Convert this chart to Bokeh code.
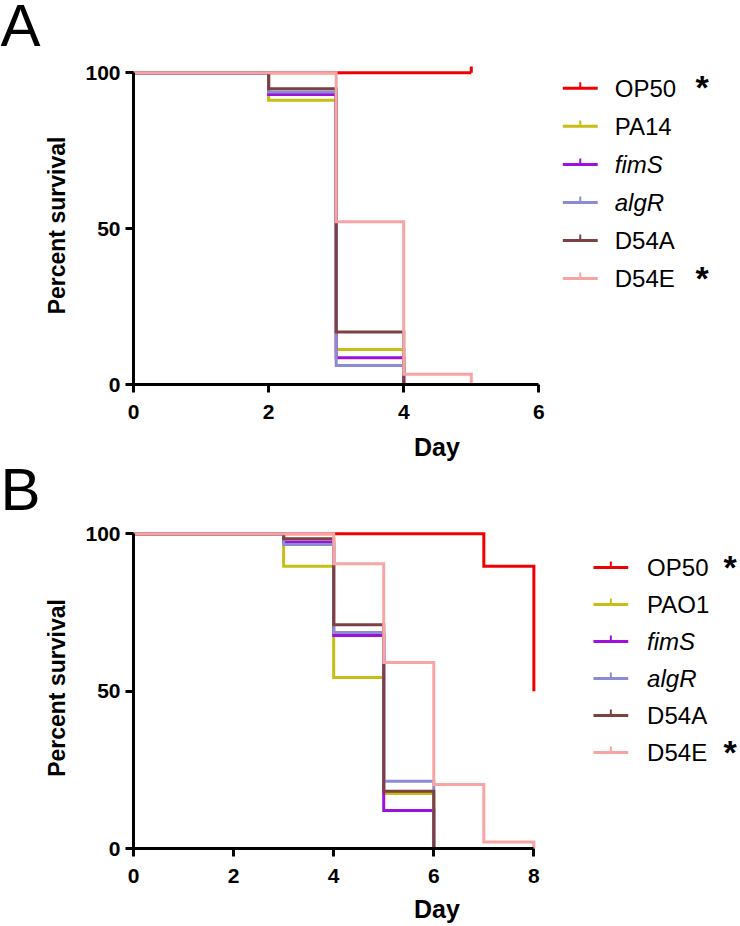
from bokeh.plotting import figure
from bokeh.models import Range1d, FixedTicker, Label
from bokeh.layouts import column, row
from bokeh.embed import file_html
from bokeh.resources import INLINE

# ---------------- data ----------------
strains_A = ["OP50", "PA14", "fimS", "algR", "D54A", "D54E"]
strains_B = ["OP50", "PAO1", "fimS", "algR", "D54A", "D54E"]
italic = [False, False, True, True, False, False]
starred = [True, False, False, False, False, True]
colors = ["#F00000", "#C6BE16", "#9E10DC", "#8C8CD2", "#7C4242", "#F9A4A4"]

# Panel A: event days and survival (%) after each event
days_A_OP50 = [0, 5];          surv_A_OP50 = [100, 100]
days_A_PA14 = [0, 2, 3, 4];    surv_A_PA14 = [100, 91.2, 11.2, 0]
days_A_fimS = [0, 2, 3, 4];    surv_A_fimS = [100, 93.0, 8.6, 0]
days_A_algR = [0, 2, 3, 4];    surv_A_algR = [100, 93.8, 6.1, 0]
days_A_D54A = [0, 2, 3, 4];    surv_A_D54A = [100, 94.9, 16.8, 0]
days_A_D54E = [0, 3, 4, 5];    surv_A_D54E = [100, 52.2, 3.3, 0]
censor_A_days = [5];           censor_A_surv = [100]     # OP50 censored

# Panel B
days_B_OP50 = [0, 7, 8];          surv_B_OP50 = [100, 89.7, 50.0]
days_B_PAO1 = [0, 3, 4, 5, 6];    surv_B_PAO1 = [100, 89.7, 54.3, 17.5, 0]
days_B_fimS = [0, 3, 4, 5, 6];    surv_B_fimS = [100, 97.4, 67.7, 12.1, 0]
days_B_algR = [0, 3, 4, 5, 6];    surv_B_algR = [100, 96.6, 68.6, 21.4, 0]
days_B_D54A = [0, 3, 4, 5, 6];    surv_B_D54A = [100, 98.4, 71.1, 18.2, 0]
days_B_D54E = [0, 4, 5, 6, 7, 8]; surv_B_D54E = [100, 90.5, 59.1, 20.3, 2.1, 0]

xticks_A = [0, 2, 4, 6]
xticks_B = [0, 2, 4, 6, 8]
yticks = [0, 50, 100]
panel_letters = ["A", "B"]

curves_A = [(days_A_OP50, surv_A_OP50), (days_A_PA14, surv_A_PA14), (days_A_fimS, surv_A_fimS),
            (days_A_algR, surv_A_algR), (days_A_D54A, surv_A_D54A), (days_A_D54E, surv_A_D54E)]
curves_B = [(days_B_OP50, surv_B_OP50), (days_B_PAO1, surv_B_PAO1), (days_B_fimS, surv_B_fimS),
            (days_B_algR, surv_B_algR), (days_B_D54A, surv_B_D54A), (days_B_D54E, surv_B_D54E)]

FONT = "Liberation Sans"
W = 740
LW = 41          # width of the strip holding the panel letter
H = 463          # height of each panel row


def letter_fig(letter, mid_from_top):
    f = figure(width=LW, height=H, output_backend="svg", toolbar_location=None, title=None,
               x_axis_location=None, y_axis_location=None,
               x_range=Range1d(0, LW), y_range=Range1d(0, H),
               min_border_left=0, min_border_right=0, min_border_top=0, min_border_bottom=0)
    f.frame_align = False
    f.xgrid.visible = False
    f.ygrid.visible = False
    f.outline_line_color = None
    f.add_layout(Label(x=0, y=H - mid_from_top, text=letter, text_font=FONT,
                       text_font_size="60px", text_baseline="middle", text_align="left",
                       text_color="black"))
    return f


def make_panel(strains, curves, censors, xticks, geo):
    left, top, bottom = geo["left"], geo["top"], geo["bottom"]
    ppd, ppu, page_y = geo["ppd"], geo["ppu"], geo["page_y"]
    PW = W - LW
    frame_w = PW - left
    frame_h = H - top - bottom
    x_end = frame_w / ppd
    y_end = frame_h / ppu
    p = figure(width=PW, height=H, output_backend="svg", toolbar_location=None,
               x_range=Range1d(0, x_end), y_range=Range1d(0, y_end),
               min_border_left=left, min_border_right=0, min_border_top=top,
               min_border_bottom=bottom)
    p.frame_align = False
    p.outline_line_color = None
    p.xgrid.visible = False
    p.ygrid.visible = False

    # page -> data helpers (layout only)
    frame_left_page = LW + left
    frame_bottom_page = page_y + top + frame_h

    def dx(px):
        return (px - frame_left_page) / ppd

    def dy(py):
        return (frame_bottom_page - py) / ppu

    for (d, s), c in zip(curves, colors):
        p.step(d, s, mode="after", line_color=c, line_width=3, line_join="miter")
    for cd, cs in censors:
        p.segment(x0=cd, y0=cs, x1=cd, y1=[v + 7 / ppu for v in cs],
                  line_color=colors[0], line_width=3)

    for ax in (p.xaxis[0], p.yaxis[0]):
        ax.axis_line_width = 3
        ax.axis_line_color = "black"
        ax.major_tick_line_width = 3
        ax.major_tick_out = 8
        ax.major_tick_in = 0
        ax.minor_tick_line_color = None
        ax.major_label_text_font = FONT
        ax.major_label_text_font_style = "bold"
        ax.major_label_text_font_size = "21px"
        ax.major_label_text_color = "black"
        ax.axis_label_text_font = FONT
        ax.axis_label_text_font_style = "bold"
        ax.axis_label_text_color = "black"
    p.xaxis.ticker = FixedTicker(ticks=xticks)
    p.xaxis.bounds = (xticks[0], xticks[-1])
    p.xaxis.axis_label = "Day"
    p.xaxis.axis_label_text_font_size = "25px"
    p.xaxis.major_label_standoff = 12
    p.xaxis.axis_label_standoff = geo["xlab_standoff"]
    p.yaxis.ticker = FixedTicker(ticks=yticks)
    p.yaxis.bounds = (0, 100)
    p.yaxis.axis_label = "Percent survival"
    p.yaxis.axis_label_text_font_size = "23px"
    p.yaxis.major_label_standoff = 5
    p.yaxis.axis_label_standoff = 12

    # legend (manual)
    lx0, lx1, tx, sx = geo["leg_line"][0], geo["leg_line"][1], geo["leg_text"], geo["leg_star"]
    for i, (name, c) in enumerate(zip(strains, colors)):
        py = geo["leg_y0"] + i * geo["leg_dy"]
        p.segment(x0=[dx(lx0)], y0=[dy(py)], x1=[dx(lx1)], y1=[dy(py)], line_color=c, line_width=3)
        mid = (lx0 + lx1) / 2
        p.segment(x0=[dx(mid)], y0=[dy(py)], x1=[dx(mid)], y1=[dy(py - 6)], line_color=c, line_width=2)
        p.add_layout(Label(x=dx(tx), y=dy(py), text=name, text_font=FONT, text_font_size="24px",
                           text_font_style="italic" if italic[i] else "normal",
                           text_baseline="middle", text_align="left", text_color="black"))
        if starred[i]:
            p.add_layout(Label(x=dx(sx), y=dy(py - 1), text="*", text_font=FONT, text_font_size="34px",
                               text_font_style="bold", text_baseline="middle", text_align="left",
                               text_color="black"))
    return p


# page layout (pixels): row A 0-463 (letter strip 0-41, plot 41-740), row B 463-926
geo_A = dict(left=132 - LW, top=66, bottom=76, ppd=67.67, ppu=3.147, page_y=0,
             xlab_standoff=11, leg_line=(562, 597), leg_text=614, leg_star=695,
             leg_y0=88, leg_dy=38.4)
geo_B = dict(left=129 - LW, top=64, bottom=78, ppd=50.375, ppu=3.147, page_y=463,
             xlab_standoff=9, leg_line=(592, 627), leg_text=646, leg_star=723,
             leg_y0=567, leg_dy=37.0)

lA = letter_fig(panel_letters[0], 25)
pA = make_panel(strains_A, curves_A, [(censor_A_days, censor_A_surv)], xticks_A, geo_A)
lB = letter_fig(panel_letters[1], 26)
pB = make_panel(strains_B, curves_B, [], xticks_B, geo_B)

layout = column(row(lA, pA, spacing=0), row(lB, pB, spacing=0), spacing=0)
open("out.html", "w").write(file_html(layout, INLINE))
